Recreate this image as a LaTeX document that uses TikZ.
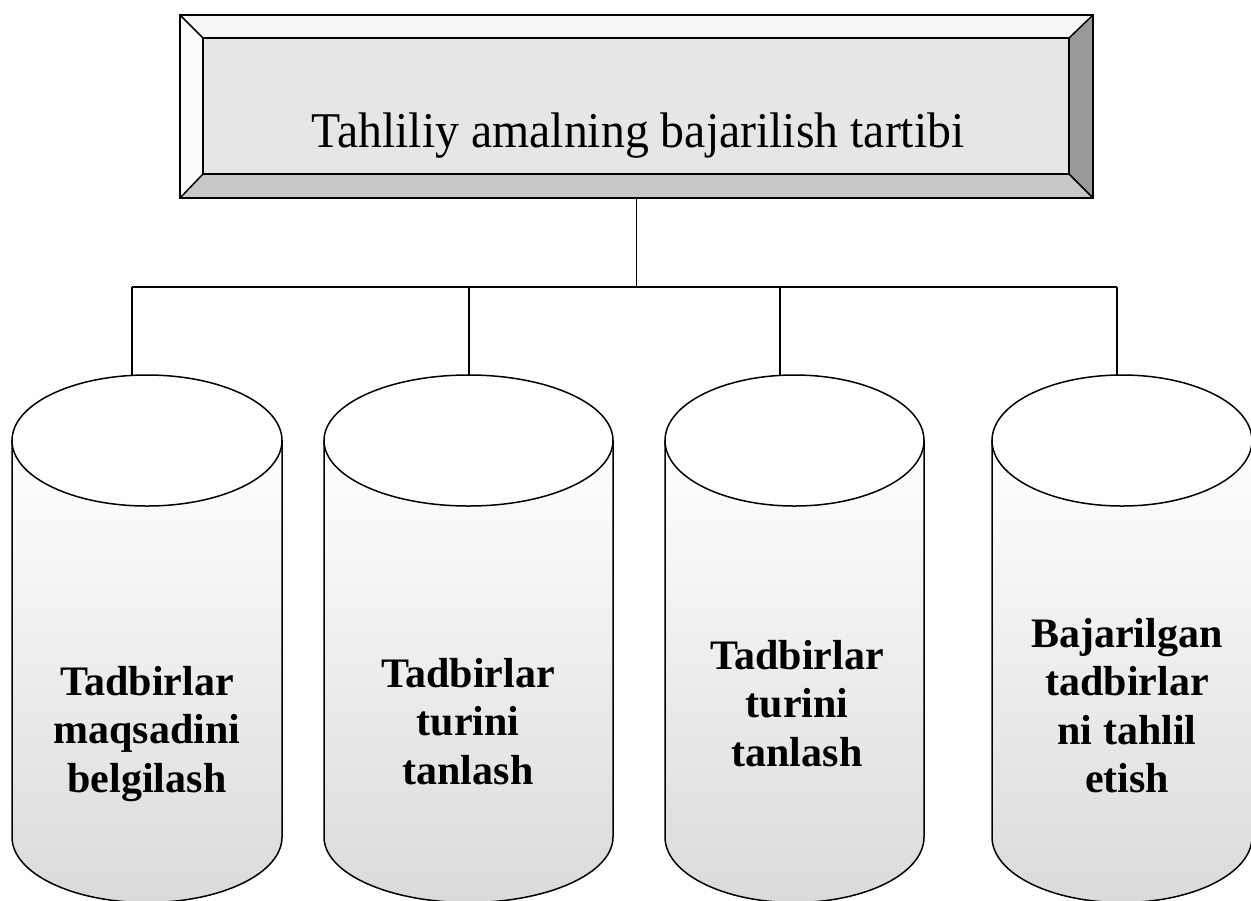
\documentclass[tikz,border=0pt]{standalone}
\usepackage{fontspec}
\setmainfont{Liberation Serif}
\usetikzlibrary{calc}
\definecolor{bevtop}{HTML}{F7F7F7}
\definecolor{bevleft}{HTML}{FBFBFB}
\definecolor{bevright}{HTML}{999999}
\definecolor{bevbottom}{HTML}{C8C8C8}
\definecolor{innerfill}{HTML}{E6E6E6}
\definecolor{cylbottom}{HTML}{DADADA}
\tikzset{
  bevel/.style={draw=black, line width=0.75pt, line join=miter},
  titlebox/.style={draw=black, line width=0.8pt, minimum width=456.5pt, minimum height=91.5pt, inner sep=0pt},
  titletext/.style={font=\fontsize{25}{30}\selectfont, anchor=base, inner sep=0pt},
  cyltext/.style={font=\fontsize{21}{24.25}\selectfont\bfseries, align=center, anchor=base, inner sep=0pt},
  cylline/.style={draw=black, line width=0.75pt},
  link/.style={draw=black, line width=0.55pt},
  busline/.style={draw=black, line width=1pt}
}
\newcommand\drawcyl[2]{%
  \shade[cylline, top color=white, bottom color=cylbottom]
    (#1-#2,440.5) -- (#1-#2,837)
    arc[start angle=180, end angle=0, x radius=#2, y radius=65.5]
    -- (#1+#2,440.5) -- cycle;
  \draw[cylline, fill=white] (#1,440.5) ellipse[x radius=#2, y radius=65.5];
}
\begin{document}
\begin{tikzpicture}[x=0.5pt,y=-0.5pt]
\useasboundingbox (0,0) rectangle (1251,900);
% title bevel box
\fill[bevtop]    (180,15) -- (1093,15) -- (1069,38) -- (203,38) -- cycle;
\fill[bevleft]   (180,15) -- (203,38) -- (203,174) -- (180,198) -- cycle;
\fill[bevright]  (1093,15) -- (1093,198) -- (1069,174) -- (1069,38) -- cycle;
\fill[bevbottom] (180,198) -- (203,174) -- (1069,174) -- (1093,198) -- cycle;
\draw[bevel, fill=innerfill] (203,38) rectangle (1069,174);
\draw[bevel] (180,15) -- (203,38) (1093,15) -- (1069,38)
             (180,198) -- (203,174) (1093,198) -- (1069,174);
\node[titlebox] (title) at (636.5,106.5) {};
\node[titletext] (titlelabel) at (638,147) {\scalebox{0.955}[1]{Tahliliy amalning bajarilish tartibi}};
% cylinders
\drawcyl{147}{135}
\drawcyl{468.5}{144.5}
\drawcyl{794.5}{129.5}
\drawcyl{1122}{130}
\node[cyltext] (c1) at (147,792) {Tadbirlar\\maqsadini\\belgilash};
\node[cyltext] (c2) at (468,784) {Tadbirlar\\turini\\tanlash};
\node[cyltext] (c3) at (797,766) {Tadbirlar\\turini\\tanlash};
\node[cyltext] (c4) at (1127,792.5) {Bajarilgan\\tadbirlar\\ni tahlil\\etish};
% connector coordinates
\coordinate (bus) at (636.5,287);
\coordinate (j1) at (132,287);
\coordinate (j2) at (469,287);
\coordinate (j3) at (780,287);
\coordinate (j4) at (1117,287);
\coordinate (t1) at (132,375.4);
\coordinate (t2) at (469,375);
\coordinate (t3) at (780,375.4);
\coordinate (t4) at (1117,375.1);
\draw[link] (title.south) -- (bus);
\draw[busline] (j1) -- (j4);
\draw[link] (j1) -- (t1);
\draw[link] (j2) -- (t2);
\draw[link] (j3) -- (t3);
\draw[link] (j4) -- (t4);
\end{tikzpicture}
\end{document}
